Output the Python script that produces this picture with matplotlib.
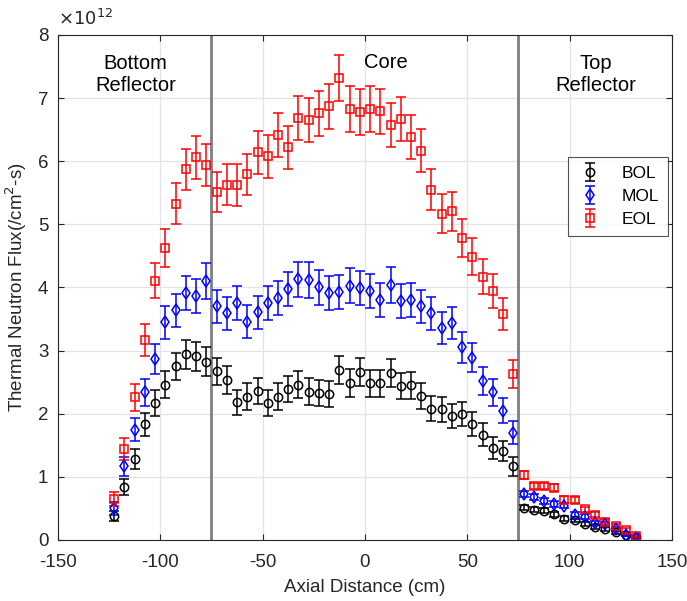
import numpy as np
import matplotlib
matplotlib.use('Agg')
import matplotlib.pyplot as plt

plt.rcParams['font.family'] = ['Liberation Sans', 'DejaVu Sans']
plt.rcParams['axes.unicode_minus'] = False

# axial positions of the tally bins (cm)
z = [-122.5, -117.5, -112.5, -107.5, -102.5, -97.5, -92.5, -87.5, -82.5, -77.5,
     -72.5, -67.5, -62.5, -57.5, -52.5, -47.5, -42.5, -37.5, -32.5, -27.5,
     -22.5, -17.5, -12.5, -7.5, -2.5, 2.5, 7.5, 12.5, 17.5, 22.5,
     27.5, 32.5, 37.5, 42.5, 47.5, 52.5, 57.5, 62.5, 67.5, 72.5,
     77.5, 82.5, 87.5, 92.5, 97.5, 102.5, 107.5, 112.5, 117.5, 122.5, 127.5, 132.5]

# thermal flux, units of 1e12 /cm^2-s
bol = [0.38, 0.84, 1.28, 1.83, 2.17, 2.46, 2.75, 2.94, 2.91, 2.82,
       2.67, 2.53, 2.18, 2.27, 2.36, 2.17, 2.27, 2.39, 2.46, 2.35,
       2.33, 2.31, 2.69, 2.49, 2.66, 2.48, 2.48, 2.65, 2.44, 2.45,
       2.28, 2.08, 2.07, 1.97, 2.00, 1.84, 1.67, 1.46, 1.41, 1.17,
       0.51, 0.48, 0.46, 0.41, 0.34, 0.31, 0.25, 0.21, 0.18, 0.13, 0.08, 0.05]
bol_err = [0.08, 0.12, 0.16, 0.18, 0.20, 0.21, 0.22, 0.23, 0.23, 0.23,
           0.22, 0.22, 0.20, 0.21, 0.21, 0.20, 0.21, 0.21, 0.21, 0.21,
           0.21, 0.21, 0.22, 0.22, 0.22, 0.22, 0.22, 0.22, 0.21, 0.21,
           0.21, 0.20, 0.20, 0.19, 0.19, 0.19, 0.18, 0.17, 0.16, 0.15,
           0.04, 0.04, 0.04, 0.04, 0.04, 0.03, 0.03, 0.03, 0.03, 0.03, 0.02, 0.02]

mol = [0.50, 1.17, 1.75, 2.34, 2.87, 3.45, 3.64, 3.91, 3.87, 4.10,
       3.70, 3.59, 3.75, 3.46, 3.61, 3.76, 3.84, 3.98, 4.13, 4.12,
       4.00, 3.91, 3.93, 4.03, 3.99, 3.94, 3.80, 4.04, 3.78, 3.80,
       3.70, 3.59, 3.36, 3.44, 3.05, 2.89, 2.52, 2.34, 2.05, 1.70,
       0.73, 0.68, 0.62, 0.57, 0.54, 0.40, 0.37, 0.27, 0.25, 0.18, 0.08, 0.03]
mol_err = [0.10, 0.15, 0.18, 0.21, 0.24, 0.26, 0.26, 0.27, 0.27, 0.28,
           0.26, 0.26, 0.27, 0.26, 0.26, 0.27, 0.27, 0.27, 0.28, 0.28,
           0.27, 0.27, 0.27, 0.28, 0.27, 0.27, 0.27, 0.28, 0.27, 0.27,
           0.26, 0.26, 0.25, 0.25, 0.24, 0.23, 0.22, 0.21, 0.20, 0.18,
           0.05, 0.05, 0.05, 0.05, 0.04, 0.04, 0.04, 0.03, 0.03, 0.03, 0.02, 0.02]

eol = [0.65, 1.44, 2.26, 3.17, 4.11, 4.62, 5.33, 5.87, 6.06, 5.94,
       5.51, 5.63, 5.62, 5.79, 6.14, 6.08, 6.41, 6.22, 6.68, 6.65,
       6.76, 6.87, 7.32, 6.83, 6.78, 6.83, 6.79, 6.58, 6.67, 6.38,
       6.17, 5.55, 5.17, 5.21, 4.79, 4.49, 4.17, 3.94, 3.58, 2.63,
       1.03, 0.85, 0.86, 0.83, 0.64, 0.63, 0.49, 0.40, 0.29, 0.22, 0.16, 0.06]
eol_err = [0.11, 0.17, 0.21, 0.25, 0.28, 0.30, 0.32, 0.33, 0.34, 0.33,
           0.32, 0.33, 0.33, 0.33, 0.34, 0.34, 0.35, 0.34, 0.35, 0.35,
           0.36, 0.36, 0.37, 0.36, 0.36, 0.36, 0.36, 0.35, 0.35, 0.35,
           0.34, 0.32, 0.31, 0.31, 0.30, 0.29, 0.28, 0.27, 0.26, 0.22,
           0.06, 0.05, 0.05, 0.05, 0.05, 0.05, 0.04, 0.04, 0.04, 0.03, 0.03, 0.02]

fig = plt.figure(figsize=(6.87, 6.01), dpi=100)
ax = fig.add_axes([0.0844, 0.1015, 0.8936, 0.8403])

series = [(bol, bol_err, 'k', 'o', 'BOL'),
          (mol, mol_err, 'b', 'd', 'MOL'),
          (eol, eol_err, 'r', 's', 'EOL')]
for y, e, c, m, lab in series:
    ax.errorbar(z, y, yerr=e, fmt=m, color=c, mfc='none', mec=c, ms=6,
                mew=1.1, elinewidth=1.1, capsize=3.5, capthick=1.1, label=lab)

# region boundaries
for xb in (-75, 75):
    ax.axvline(xb, color='#7f7f7f', lw=2, zorder=1)

ax.set_xlim(-150, 150)
ax.set_ylim(0, 8)
ax.set_xticks(np.arange(-150, 151, 50))
ax.set_yticks(np.arange(0, 9, 1))
ax.grid(True, color='#e3e3e3', lw=0.9)
ax.set_axisbelow(True)
ax.tick_params(direction='in', top=True, right=True, labelsize=13.5, length=4,
               width=0.8, colors='#262626')
ax.tick_params(axis='x', pad=10)
ax.tick_params(axis='y', pad=7)
for s in ax.spines.values():
    s.set_linewidth(0.8)
    s.set_color('#262626')

ax.set_xlabel('Axial Distance (cm)', fontsize=13.5, color='#262626', labelpad=6)
ax.set_ylabel('Thermal Neutron Flux(/cm$^2$-s)', fontsize=13.5, color='#262626',
              labelpad=6)
ax.text(0.0, 1.012, r'$\times10^{12}$', transform=ax.transAxes, fontsize=13,
        ha='left', va='bottom', color='#262626', math_fontfamily='custom')

ax.text(-112, 7.37, 'Bottom\nReflector', ha='center', va='center', fontsize=14.5,
        linespacing=1.2)
ax.text(10, 7.57, 'Core', ha='center', va='center', fontsize=14.5)
ax.text(113, 7.37, 'Top\nReflector', ha='center', va='center', fontsize=14.5,
        linespacing=1.2)

leg = ax.legend(loc='upper right', bbox_to_anchor=(0.993, 0.758), fontsize=12.5,
                frameon=True, fancybox=False, edgecolor='#262626',
                borderaxespad=0, handlelength=1.6, borderpad=0.5,
                labelspacing=0.45, handletextpad=1.0)
leg.get_frame().set_linewidth(0.8)

fig.savefig('out.png', dpi=100)
